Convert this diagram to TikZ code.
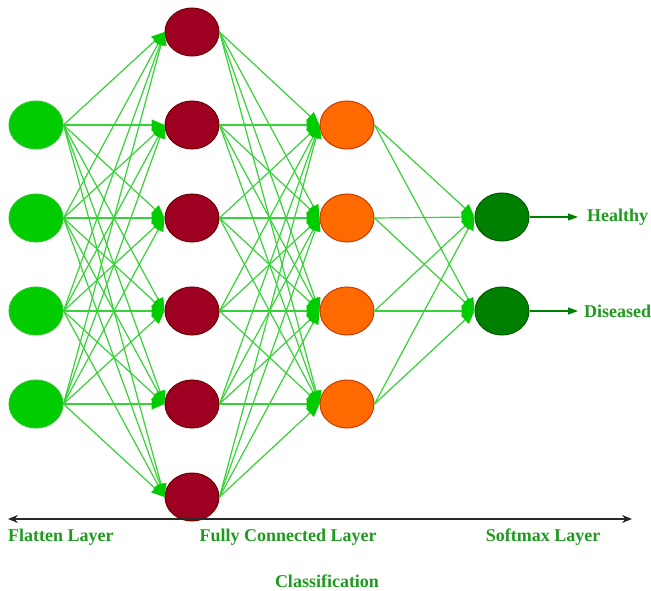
\documentclass[tikz,border=0pt]{standalone}
\usepackage{fontspec}
\setmainfont{Liberation Serif}
\usetikzlibrary{arrows.meta,shapes.geometric}
\definecolor{linegreen}{RGB}{55,210,55}
\definecolor{headgreen}{RGB}{0,204,0}
\definecolor{flatfill}{RGB}{0,204,0}
\definecolor{flatdraw}{RGB}{40,200,40}
\definecolor{redfill}{RGB}{158,0,34}
\definecolor{reddraw}{RGB}{110,0,0}
\definecolor{orangefill}{RGB}{255,106,0}
\definecolor{orangedraw}{RGB}{200,60,0}
\definecolor{dgfill}{RGB}{0,128,0}
\definecolor{dgdraw}{RGB}{0,90,0}
\definecolor{labelgreen}{RGB}{30,155,30}
\definecolor{axisgray}{RGB}{40,40,40}
\tikzset{
  neuron/.style={ellipse, minimum width=54pt, minimum height=48pt, inner sep=0pt, line width=1pt},
  flatn/.style={neuron, fill=flatfill, draw=flatdraw},
  redn/.style={neuron, fill=redfill, draw=reddraw},
  orangen/.style={neuron, fill=orangefill, draw=orangedraw},
  dgn/.style={neuron, fill=dgfill, draw=dgdraw},
  conn/.style={draw=linegreen, line width=1.2pt, -{Triangle[length=13pt,width=11pt,fill=headgreen,color=headgreen]}},
  outarrow/.style={draw=dgfill, line width=1.2pt, -{Triangle[length=10pt,width=7pt]}},
  axis/.style={draw=axisgray, line width=1.3pt, {Stealth[length=10pt,width=8pt]}-{Stealth[length=10pt,width=8pt]}},
  lbl/.style={font=\fontsize{18}{20}\selectfont\bfseries, text=labelgreen, inner sep=0pt}
}
\begin{document}
\begin{tikzpicture}[x=1pt,y=-1pt]
\useasboundingbox (0,0) rectangle (651,591);
% flatten
\foreach \i/\y in {1/125,2/218,3/311,4/404}
  \node[flatn] (f\i) at (36,\y) {};
% hidden 1
\foreach \i/\y in {1/32,2/125,3/218,4/311,5/404,6/497}
  \node[redn] (h\i) at (192,\y) {};
% hidden 2
\foreach \i/\y in {1/125,2/218,3/311,4/404}
  \node[orangen] (o\i) at (347,\y) {};
% output
\node[dgn] (s1) at (502,217) {};
\node[dgn] (s2) at (502,311) {};
% connections
\foreach \i in {1,...,4}
  \foreach \j in {1,...,6}
    \draw[conn] (f\i.east) -- (h\j.west);
\foreach \i in {1,...,6}
  \foreach \j in {1,...,4}
    \draw[conn] (h\i.east) -- (o\j.west);
\foreach \i in {1,...,4}
  \foreach \j in {1,2}
    \draw[conn] (o\i.east) -- (s\j.west);
% outputs
\coordinate (e1) at (578,217);
\coordinate (e2) at (578,311);
\draw[outarrow] (s1.east) -- (e1);
\draw[outarrow] (s2.east) -- (e2);
\node[lbl, anchor=west] (healthy) at (587,217) {Healthy};
\node[lbl, anchor=west] (diseased) at (584,311) {Diseased};
% axis
\coordinate (axl) at (8,519);
\coordinate (axr) at (632,519);
\draw[axis] (axl) -- (axr);
\node[lbl, anchor=west] (flat) at (8,537) {Flatten Layer};
\node[lbl] (fc) at (288,537) {Fully Connected Layer};
\node[lbl] (soft) at (543,537) {Softmax Layer};
\node[lbl] (cls) at (327,581) {Classification};
\end{tikzpicture}
\end{document}
